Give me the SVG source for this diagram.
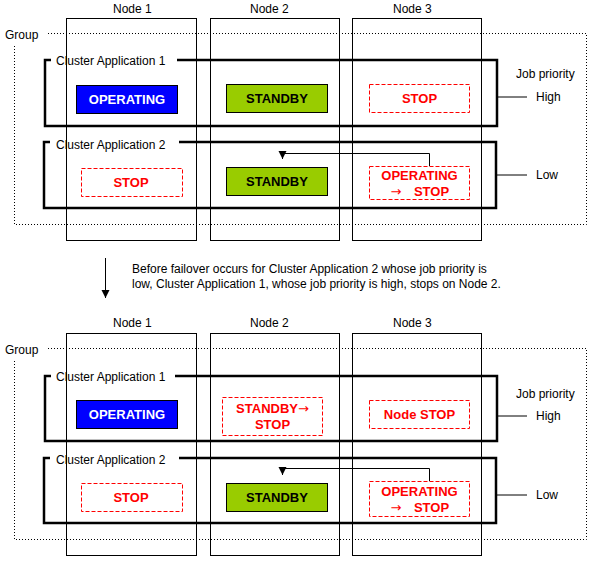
<svg xmlns="http://www.w3.org/2000/svg" width="592" height="565" viewBox="0 0 592 565">
<style>
text{font-family:"Liberation Sans",Arial,sans-serif;font-size:12px;fill:#000}
.st{font-weight:bold;font-size:13px;text-anchor:middle}
.arr{font-family:"DejaVu Sans",sans-serif;font-weight:normal;font-size:13px}
.node{fill:none;stroke:#000;stroke-width:1}
.grp{fill:none;stroke:#000;stroke-width:1;stroke-dasharray:1,2}
.ca{fill:none;stroke:#000;stroke-width:2.5}
.op{fill:#0000ff;stroke:#000;stroke-width:1}
.sb{fill:#99cc00;stroke:#000;stroke-width:1}
.stop{fill:#fff;stroke:#ff0000;stroke-width:1;stroke-dasharray:4,2}
.w{fill:#fff}.r{fill:#ff0000}
.ln{fill:none;stroke:#000;stroke-width:1}
</style>
<defs>
<marker id="ad" markerWidth="10" markerHeight="10" refX="5" refY="8" orient="0" markerUnits="userSpaceOnUse" viewBox="0 0 10 10">
<path d="M1,0 L9,0 L5,8 Z" fill="#000"/>
</marker>
</defs>

<!-- ===== Top half ===== -->
<g id="top-columns">
<rect class="node" x="66.5" y="18.5" width="130" height="222"/>
<rect class="node" x="210.5" y="18.5" width="129" height="222"/>
<rect class="node" x="352.5" y="18.5" width="129" height="222"/>
<text x="113" y="13">Node 1</text>
<text x="250" y="13">Node 2</text>
<text x="393" y="13">Node 3</text>
</g>
<g id="top-group">
<path class="grp" d="M48,33.5 H586.5 V224.5 H14.5 V45"/>
<text x="5" y="39">Group</text>
</g>
<g id="top-ca1">
<path class="ca" d="M51,60 H45 V126 H497 V60 H177"/>
<text x="56" y="65">Cluster Application 1</text>
</g>
<g id="top-ca2">
<path class="ca" d="M50,142 H44 V208 H496 V142 H179"/>
<text x="56" y="149">Cluster Application 2</text>
</g>
<g id="top-n1-op"><rect class="op" x="76.5" y="85.5" width="101" height="28"/><text class="st w" x="127" y="104">OPERATING</text></g>
<g id="top-n2-sb"><rect class="sb" x="226.5" y="84.5" width="101" height="28"/><text class="st" x="277" y="103">STANDBY</text></g>
<g id="top-n3-stop"><rect class="stop" x="369.5" y="84.5" width="100" height="28"/><text class="st r" x="419.5" y="103">STOP</text></g>
<g id="top-n1-stop"><rect class="stop" x="81.5" y="168.5" width="101" height="28"/><text class="st r" x="131" y="187">STOP</text></g>
<g id="top-n2-sb2"><rect class="sb" x="226.5" y="167.5" width="101" height="28"/><text class="st" x="277" y="186">STANDBY</text></g>
<g id="top-n3-opstop"><rect class="stop" x="369.5" y="166.5" width="100" height="33"/><text class="st r" x="419.5" y="180">OPERATING</text><text class="st r" x="396" y="196"><tspan class="arr">→</tspan></text><text class="st r" x="431.5" y="196">STOP</text></g>
<g id="top-priority">
<text x="516" y="78">Job priority</text>
<text x="536" y="101">High</text>
<text x="536" y="179">Low</text>
</g>

<!-- ===== Middle ===== -->
<g id="middle">
<text x="132" y="273">Before failover occurs for Cluster Application 2 whose job priority is</text>
<text x="132" y="288">low, Cluster Application 1, whose job priority is high, stops on Node 2.</text>
</g>

<!-- ===== Bottom half ===== -->
<g id="bot-columns">
<rect class="node" x="66.5" y="333.5" width="130" height="222"/>
<rect class="node" x="210.5" y="333.5" width="129" height="222"/>
<rect class="node" x="352.5" y="333.5" width="129" height="222"/>
<text x="113" y="327">Node 1</text>
<text x="250" y="327">Node 2</text>
<text x="393" y="327">Node 3</text>
</g>
<g id="bot-group">
<path class="grp" d="M48,348.5 H586.5 V539.5 H14.5 V360"/>
<text x="5" y="354">Group</text>
</g>
<g id="bot-ca1">
<path class="ca" d="M51,376 H45 V441 H497 V376 H175"/>
<text x="56" y="381">Cluster Application 1</text>
</g>
<g id="bot-ca2">
<path class="ca" d="M50,458 H44 V523 H496 V458 H179"/>
<text x="56" y="464">Cluster Application 2</text>
</g>
<g id="bot-n1-op"><rect class="op" x="76.5" y="400.5" width="101" height="28"/><text class="st w" x="127" y="419">OPERATING</text></g>
<g id="bot-n2-sbstop"><rect class="stop" x="222.5" y="397.5" width="100" height="38"/><text class="st r" x="272.5" y="413">STANDBY<tspan class="arr">→</tspan></text><text class="st r" x="272.5" y="429">STOP</text></g>
<g id="bot-n3-nodestop"><rect class="stop" x="369.5" y="400.5" width="100" height="28"/><text class="st r" x="419.5" y="419">Node STOP</text></g>
<g id="bot-n1-stop"><rect class="stop" x="81.5" y="483.5" width="101" height="28"/><text class="st r" x="131" y="502">STOP</text></g>
<g id="bot-n2-sb"><rect class="sb" x="226.5" y="483.5" width="101" height="28"/><text class="st" x="277" y="502">STANDBY</text></g>
<g id="bot-n3-opstop"><rect class="stop" x="369.5" y="481.5" width="100" height="35"/><text class="st r" x="419.5" y="496">OPERATING</text><text class="st r" x="396" y="512"><tspan class="arr">→</tspan></text><text class="st r" x="431.5" y="512">STOP</text></g>
<g id="bot-priority">
<text x="516" y="398">Job priority</text>
<text x="536" y="420">High</text>
<text x="536" y="499">Low</text>
</g>

<!-- ===== Connectors ===== -->
<g id="connectors">
<path class="ln" d="M497,97 H527"/>
<path class="ln" d="M496,175 H527"/>
<path class="ln" d="M429.5,166 V153.5 H282.5 V159" marker-end="url(#ad)"/>
<path class="ln" d="M105.5,258 V298" marker-end="url(#ad)"/>
<path class="ln" d="M497,416 H527"/>
<path class="ln" d="M496,495 H527"/>
<path class="ln" d="M429.5,481 V468.5 H282.5 V475" marker-end="url(#ad)"/>
</g>
</svg>
